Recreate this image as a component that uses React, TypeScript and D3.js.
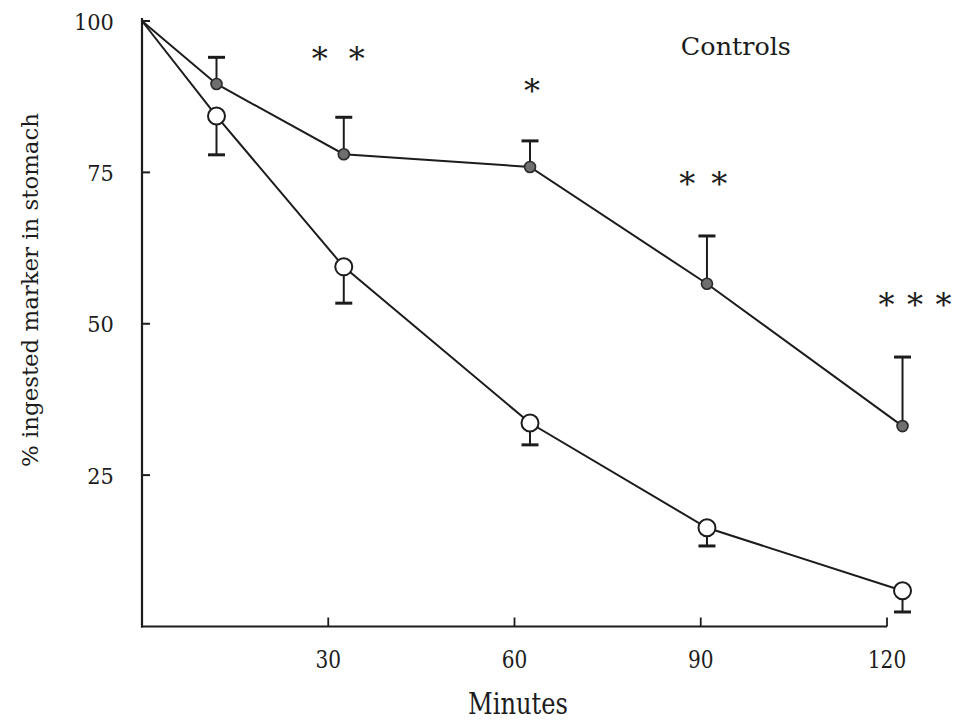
import React from 'react';
import * as d3 from 'd3';

const minutes = [0, 12, 32.5, 62.5, 91, 122.5];
const controls = [100, 89.6, 78.0, 75.9, 56.6, 33.1];
const controlsUpper = [null, 94.0, 84.1, 80.2, 64.5, 44.5];
const treated = [100, 84.3, 59.4, 33.6, 16.3, 5.9];
const treatedLower = [null, 77.9, 53.4, 30.0, 13.3, 2.4];
const xTicks = [30, 60, 90, 120];
const yTicks = [25, 50, 75, 100];
const sigMinutes = [31.6, 62.8, 90.4, 124.5];
const sigValues = [94.7, 89.4, 74.1, 54.1];
const sigLabels = ['* *', '*', '* *', '* * *'];
const legendLabel = 'Controls';
const legendMinute = 86.8;
const legendValue = 94.4;
const xLabel = 'Minutes';
const yLabel = '% ingested marker in stomach';

const W = 960;
const H = 728;
const INK = '#1c1c1c';
const SERIF = '"DejaVu Serif", "Liberation Serif", serif';
const sigGap = [37, 0, 32, 28.5];

export default function App() {
  const x = d3.scaleLinear().domain([0, 120]).range([142, 887]);
  const y = d3.scaleLinear().domain([0, 100]).range([626.5, 21]);

  const line = d3
    .line<number>()
    .x((_, i) => x(minutes[i]))
    .y((d) => y(d));

  const capW = 8.5;
  const rOpen = 8.5;
  const rFilled = 5.5;

  return (
    <svg
      width={W}
      height={H}
      style={{ position: 'absolute', left: 0, top: 0, background: '#fff' }}
    >
      <rect x={0} y={0} width={W} height={H} fill="#fff" />
      {/* axes */}
      <line x1={x(0)} x2={x(0)} y1={y(100) - 3} y2={y(0) + 1} stroke={INK} strokeWidth={2.2} />
      <line x1={x(0) - 1} x2={x(120)} y1={y(0)} y2={y(0)} stroke={INK} strokeWidth={2.2} />
      {yTicks.map((t) => (
        <g key={'yt' + t}>
          <line x1={x(0)} x2={x(0) + 8} y1={y(t)} y2={y(t)} stroke={INK} strokeWidth={2} />
          <text
            x={x(0) - 68 + (3 - String(t).length) * 13.3}
            y={y(t) + 8.5}
            textLength={String(t).length * 13.3}
            lengthAdjust="spacingAndGlyphs"
            fontFamily={SERIF}
            fontSize={23}
            fill={INK}
          >
            {t}
          </text>
        </g>
      ))}
      {xTicks.map((t) => (
        <g key={'xt' + t}>
          <line x1={x(t)} x2={x(t)} y1={y(0)} y2={y(0) - 9} stroke={INK} strokeWidth={1.8} />
          <text
            x={x(t) - (String(t).length * 12.8) / 2}
            y={668}
            textLength={String(t).length * 12.8}
            lengthAdjust="spacingAndGlyphs"
            fontFamily={SERIF}
            fontSize={24.5}
            fill={INK}
          >
            {t}
          </text>
        </g>
      ))}
      <text
        x={468}
        y={714}
        textLength={100}
        lengthAdjust="spacingAndGlyphs"
        fontFamily={SERIF}
        fontSize={29}
        fill={INK}
      >
        {xLabel}
      </text>
      <text
        transform={`translate(38,467) rotate(-90)`}
        textLength={354}
        lengthAdjust="spacingAndGlyphs"
        fontFamily={SERIF}
        fontSize={22.5}
        fill={INK}
      >
        {yLabel}
      </text>
      <text
        x={x(legendMinute)}
        y={y(legendValue)}
        textLength={110}
        lengthAdjust="spacingAndGlyphs"
        fontFamily={SERIF}
        fontSize={24.5}
        fill={INK}
      >
        {legendLabel}
      </text>

      {/* lines */}
      <path d={line(treated) || ''} fill="none" stroke={INK} strokeWidth={2} />
      <path d={line(controls) || ''} fill="none" stroke={INK} strokeWidth={2} />

      {/* error bars */}
      {controlsUpper.map((u, i) =>
        u == null ? null : (
          <g key={'cu' + i}>
            <line x1={x(minutes[i])} x2={x(minutes[i])} y1={y(controls[i])} y2={y(u)} stroke={INK} strokeWidth={2} />
            <line x1={x(minutes[i]) - capW} x2={x(minutes[i]) + capW} y1={y(u)} y2={y(u)} stroke={INK} strokeWidth={3} />
          </g>
        )
      )}
      {treatedLower.map((l, i) =>
        l == null ? null : (
          <g key={'tl' + i}>
            <line x1={x(minutes[i])} x2={x(minutes[i])} y1={y(treated[i]) + rOpen} y2={y(l)} stroke={INK} strokeWidth={2} />
            <line x1={x(minutes[i]) - capW} x2={x(minutes[i]) + capW} y1={y(l)} y2={y(l)} stroke={INK} strokeWidth={3} />
          </g>
        )
      )}

      {/* markers */}
      {treated.map((v, i) =>
        i === 0 ? null : (
          <circle key={'to' + i} cx={x(minutes[i])} cy={y(v)} r={rOpen} fill="#fff" stroke={INK} strokeWidth={2} />
        )
      )}
      {controls.map((v, i) =>
        i === 0 ? null : (
          <circle key={'cf' + i} cx={x(minutes[i])} cy={y(v)} r={rFilled} fill="#6f6f6f" stroke="#2a2a2a" strokeWidth={1.6} />
        )
      )}

      {/* significance marks */}
      {sigLabels.map((lab, gi) => {
        const stars = lab.split(' ');
        const n = stars.length;
        const cx = x(sigMinutes[gi]);
        const cy = y(sigValues[gi]);
        return stars.map((s, k) => (
          <text
            key={'sig' + gi + '-' + k}
            x={cx + (k - (n - 1) / 2) * sigGap[gi]}
            y={cy + 17}
            textAnchor="middle"
            fontFamily={SERIF}
            fontSize={32}
            fill={INK}
          >
            {s}
          </text>
        ));
      })}
    </svg>
  );
}
